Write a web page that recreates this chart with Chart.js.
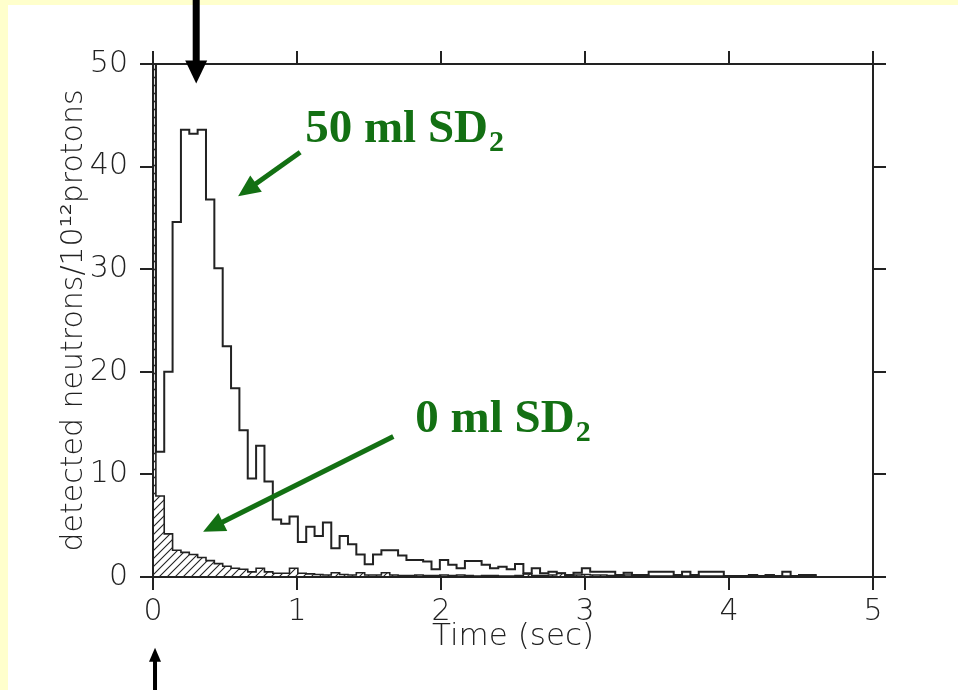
<!DOCTYPE html>
<html><head><meta charset="utf-8">
<script src="https://cdn.jsdelivr.net/npm/chart.js@4.4.1/dist/chart.umd.min.js"></script>
<style>
html,body{margin:0;padding:0;width:958px;height:690px;overflow:hidden;background:#ffffcc;}
#panel{position:absolute;left:8px;top:5px;right:0;bottom:0;background:#ffffff;}
#wrap{position:absolute;left:0;top:0;width:958px;height:690px;}
</style></head><body>
<div id="panel"></div>
<div id="wrap"><canvas id="c" width="958" height="690"></canvas></div>
<script>
// ---- data ----
// histogram bins: first (prompt) bin 0..binStart is off scale, then equal-width bins
const binStart = 0.02;    // s
const binWidth = 0.058;   // s
const promptBin = [60, 60];   // [50 ml, 0 ml] off-scale first bin
const sd50 = [12.2,20.0,34.6,43.6,43.2,43.6,36.8,30.1,22.5,18.4,
  14.3,9.6,12.8,9.3,5.6,5.2,5.9,3.4,4.9,4.0,
  5.3,2.8,4.0,3.2,2.2,1.25,2.2,2.6,2.6,2.1,
  1.65,1.65,1.5,0.75,1.65,1.2,0.85,1.55,1.55,1.2,
  0.85,1.0,0.75,1.27,0.36,0.85,0.36,0.5,0.36,0.2,
  0.42,0.85,0.5,0.5,0.5,0.2,0.42,0.2,0.2,0.5,
  0.5,0.5,0.2,0.5,0.2,0.5,0.5,0.5,0.1,0.1,
  0.1,0.2,0.1,0.2,0.1,0.5,0.1,0.2,0.2];
const sd0 = [7.9,4.2,2.6,2.4,2.2,1.9,1.6,1.3,1.05,0.85,
  0.75,0.5,0.85,0.5,0.36,0.36,0.85,0.36,0.3,0.25,
  0.2,0.42,0.25,0.2,0.42,0.2,0.2,0.42,0.2,0.15,
  0.15,0.2,0.15,0.15,0.2,0.15,0.2,0.15,0.1,0.15,
  0.15,0.1,0.1,0.15,0.3,0.15,0.15,0.2,0.36,0.15,
  0.2,0.25,0.2,0.2,0.15,0.1,0.2,0.15,0.15,0.1,
  0.1,0.1,0.15,0.1,0.15,0.1,0.1,0.1,0.05,0,
  0,0.15,0,0.15,0,0.1,0,0.15,0.15];
const xTicks = [0,1,2,3,4,5];
const yTicks = [0,10,20,30,40,50];
const xTitle = 'Time (sec)';
const yTitle = 'detected neutrons/10\u00b9\u00b2protons';
const labelMain = ['50 ml SD', '0 ml SD'];
const labelSub = ['2', '2'];

// ---- layout / style (not data) ----
const INK = '#222222';
const GREEN = '#137013';
const labelPos = [{x:1.057, y:42.4}, {x:1.822, y:14.1}];           // data coords of text baseline-left
const greenArrows = [{from:{x:1.022,y:41.4}, to:{x:0.591,y:37.1}},
                     {from:{x:1.669,y:13.7}, to:{x:0.348,y:4.4}}];
const topArrow = {x:0.30, tipY:48.1};
const bottomArrow = {x:0.014, tipY:-6.9};

function histPoints(first, vals){
  const pts = [{x:0, y:first}];
  vals.forEach((v,k)=>pts.push({x: binStart + k*binWidth, y:v}));
  pts.push({x: binStart + vals.length*binWidth, y:0});
  return pts;
}

function hatchPattern(){
  const c = document.createElement('canvas'); c.width = 8; c.height = 8;
  const g = c.getContext('2d');
  g.strokeStyle = INK; g.lineWidth = 1.1; g.beginPath();
  g.moveTo(0,8); g.lineTo(8,0);
  g.moveTo(-2,2); g.lineTo(2,-2);
  g.moveTo(6,10); g.lineTo(10,6);
  g.stroke();
  return g.createPattern(c, 'repeat');
}

function arrowHead(ctx, x1,y1,x2,y2,len,half){
  const a = Math.atan2(y2-y1, x2-x1);
  ctx.beginPath();
  ctx.moveTo(x2,y2);
  ctx.lineTo(x2 - len*Math.cos(a) + half*Math.sin(a), y2 - len*Math.sin(a) - half*Math.cos(a));
  ctx.lineTo(x2 - len*Math.cos(a) - half*Math.sin(a), y2 - len*Math.sin(a) + half*Math.cos(a));
  ctx.closePath(); ctx.fill();
}

const annotations = {
  id: 'annotations',
  afterDraw(chart){
    const ctx = chart.ctx, xs = chart.scales.x, ys = chart.scales.y;
    const px = v => xs.getPixelForValue(v), py = v => ys.getPixelForValue(v);
    ctx.save();
    // green labels
    ctx.fillStyle = GREEN; ctx.textBaseline = 'alphabetic'; ctx.textAlign = 'left';
    labelMain.forEach((t,i)=>{
      const x = px(labelPos[i].x), y = py(labelPos[i].y);
      ctx.font = 'bold 47px "Liberation Serif", "Times New Roman", serif';
      ctx.fillText(t, x, y);
      const w = ctx.measureText(t).width;
      ctx.font = 'bold 30px "Liberation Serif", "Times New Roman", serif';
      ctx.fillText(labelSub[i], x + w + 1, y + 9);
    });
    // green arrows
    ctx.strokeStyle = GREEN; ctx.lineWidth = 5; ctx.lineCap = 'butt';
    greenArrows.forEach(a=>{
      const x1 = px(a.from.x), y1 = py(a.from.y), x2 = px(a.to.x), y2 = py(a.to.y);
      const ang = Math.atan2(y2-y1, x2-x1);
      ctx.beginPath(); ctx.moveTo(x1,y1); ctx.lineTo(x2 - 14*Math.cos(ang), y2 - 14*Math.sin(ang)); ctx.stroke();
      arrowHead(ctx, x1,y1,x2,y2, 22, 10);
    });
    // black arrows
    ctx.fillStyle = '#000'; ctx.strokeStyle = '#000';
    let x = px(topArrow.x), ty = py(topArrow.tipY);
    ctx.fillRect(x-3.5, 0, 7, ty-20);
    arrowHead(ctx, x, 0, x, ty, 23, 11);
    x = px(bottomArrow.x); ty = py(bottomArrow.tipY);
    ctx.fillRect(x-2, ty+12, 4, chart.height - ty);
    arrowHead(ctx, x, chart.height, x, ty, 14, 6);
    ctx.restore();
  }
};

Chart.defaults.font.family = '"DejaVu Sans", sans-serif';
Chart.defaults.font.size = 30;
Chart.defaults.font.weight = '200';
Chart.defaults.color = INK;

const axisCommon = {
  grid: {drawOnChartArea:false, drawTicks:true, tickLength:13, color:INK, lineWidth:2},
  border: {display:true, color:INK, width:2}
};

new Chart(document.getElementById('c'), {
  type: 'line',
  data: {
    datasets: [
      {label:'50 ml SD2', data: histPoints(promptBin[0], sd50), stepped:'before',
       borderColor:INK, borderWidth:2, pointRadius:0, fill:false},
      {label:'0 ml SD2', data: histPoints(promptBin[1], sd0), stepped:'before',
       borderColor:INK, borderWidth:1.6, pointRadius:0, fill:'origin', backgroundColor: hatchPattern()}
    ]
  },
  options: {
    responsive:false, animation:false, devicePixelRatio:1,
    parsing:false,
    layout:{padding:{left:56, right:40, top:40, bottom:34}},
    plugins:{legend:{display:false}, tooltip:{enabled:false}},
    scales:{
      x: Object.assign({}, axisCommon, {type:'linear', position:'bottom', min:0, max:5,
        afterBuildTicks: s => { s.ticks = xTicks.map(v=>({value:v})); },
        ticks:{padding:4, maxRotation:0, autoSkip:false},
        title:{display:true, text:xTitle, padding:0, font:{size:31}},
        afterFit: s => { s.height = 79; }}),
      x2: Object.assign({}, axisCommon, {type:'linear', position:'top', min:0, max:5,
        afterBuildTicks: s => { s.ticks = xTicks.map(v=>({value:v})); },
        ticks:{display:false},
        afterFit: s => { s.height = 24; }}),
      y: Object.assign({}, axisCommon, {type:'linear', position:'left', min:0, max:50,
        afterBuildTicks: s => { s.ticks = yTicks.map(v=>({value:v})); },
        ticks:{padding:12},
        title:{display:true, text:yTitle, padding:0},
        afterFit: s => { s.width = 97; }}),
      y2: Object.assign({}, axisCommon, {type:'linear', position:'right', min:0, max:50,
        afterBuildTicks: s => { s.ticks = yTicks.map(v=>({value:v})); },
        ticks:{display:false},
        afterFit: s => { s.width = 45; }})
    }
  },
  plugins:[annotations]
});
</script>
</body></html>
